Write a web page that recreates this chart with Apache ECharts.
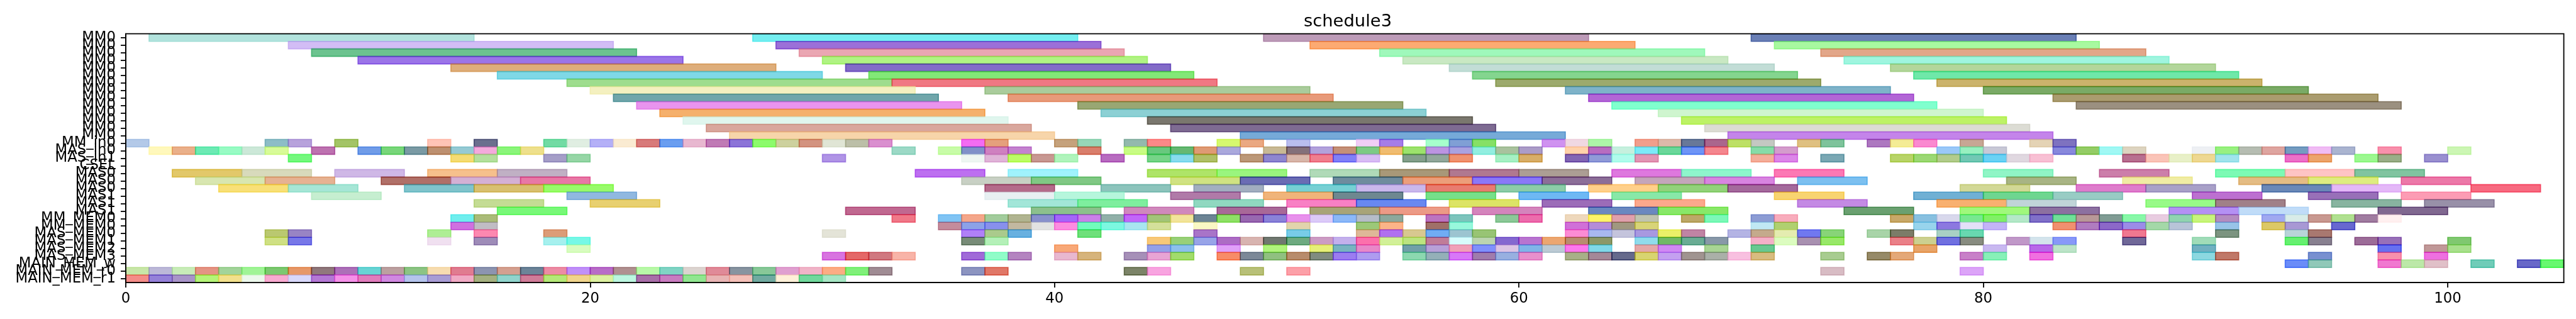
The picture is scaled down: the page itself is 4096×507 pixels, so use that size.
<!DOCTYPE html>
<html><head><meta charset="utf-8">
<script src="https://cdn.jsdelivr.net/npm/echarts@6/dist/echarts.min.js"></script>
<style>html,body{margin:0;padding:0;background:#fff}#c{width:4096px;height:507px}</style>
</head><body><div id="c"></div>
<script>
const chartTitle = 'schedule3';
const categories = ['MM0','MM0','MM0','MM0','MM0','MM0','MM0','MM0','MM0','MM0','MM0','MM0','MM0','MM0',
  'MM_in0','MAS_in0','MAS_in1','CSEL','MAS0','MAS0','MAS0','MAS1','MAS1','MAS1',
  'MM_MEM0','MM_MEM0','MAS_MEM0','MAS_MEM1','MAS_MEM2','MAS_MEM3','MAIN_MEM_w','MAIN_MEM_r0','MAIN_MEM_r1'];
const xTicks = [0, 20, 40, 60, 80, 100];
const xMax = 105;

// each row: list of [start, end]; matching colours in the *Colors arrays
const mmSpans = [
  [[1,15],[27,41],[49,63],[70,84]],
  [[7,21],[28,42],[51,65],[71,85]],
  [[8,22],[29,43],[54,68],[73,87]],
  [[10,24],[30,44],[55,69],[74,88]],
  [[14,28],[31,45],[57,71],[76,90]],
  [[16,30],[32,46],[58,72],[77,91]],
  [[19,33],[33,47],[59,73],[78,92]],
  [[20,34],[37,51],[62,76],[80,94]],
  [[21,35],[38,52],[63,77],[83,97]],
  [[22,36],[41,55],[64,78],[84,98]],
  [[23,37],[42,56],[66,80]],
  [[24,38],[44,58],[67,81]],
  [[25,39],[45,59],[68,82]],
  [[26,40],[48,62],[69,83]]
];
const mmColors = [
  ['#b2e3dd','#74eef0','#bd9bb8','#6a7fb5'],
  ['#d2bdf5','#9b70d8','#fcaa72','#a8f9a0'],
  ['#6cc38f','#eaa6b2','#9ff8bb','#e2a689'],
  ['#9b75e8','#b0f383','#c9e8c3','#9ff5df'],
  ['#deae7b','#836bc8','#c2ddd6','#b3d69b'],
  ['#7fd8e6','#82e877','#84d58f','#6fe8a9'],
  ['#9edd8e','#f07883','#9caa6d','#cbb36c'],
  ['#f4f0c0','#aacc9c','#7eb3c9','#7aaa66'],
  ['#70a6ab','#e89a7a','#b266d6','#aa9c6f'],
  ['#e994ee','#99a773','#80ffce','#9b9080'],
  ['#f5b06c','#8cd0d4','#cff5cf'],
  ['#e0f6ee','#7a776e','#bdf265'],
  ['#d9a79d','#7e6b92','#dcdcd4'],
  ['#f7d5aa','#76aad8','#c484ea']
];

const inSpans = [
  [[0,1],[6,7],[7,8],[9,10],[13,14],[15,16],[18,19],[19,20],[20,21],[21,22],[22,23],[23,24],[24,25],[25,26],[26,27],[27,28],[28,29],[29,30],[30,31],[31,32],[32,33],[36,37],[37,38],[40,41],[41,42],[43,44],[44,45],[47,48],[48,49],[50,51],[53,54],[54,55],[56,57],[57,58],[58,59],[61,62],[62,63],[63,64],[65,66],[66,67],[67,68],[68,69],[69,70],[70,71],[72,73],[73,74],[75,76],[76,77],[77,78],[79,80],[82,83],[83,84]],
  [[1,2],[2,3],[3,4],[4,5],[5,6],[6,7],[8,9],[10,11],[11,12],[12,13],[13,14],[14,15],[15,16],[16,17],[17,18],[33,34],[35,36],[36,37],[37,38],[38,39],[41,42],[43,44],[44,45],[45,46],[46,47],[47,48],[49,50],[50,51],[51,52],[52,53],[53,54],[54,55],[55,56],[56,57],[57,58],[58,59],[59,60],[60,61],[62,63],[63,64],[64,65],[65,66],[66,67],[67,68],[68,69],[70,71],[71,72],[78,79],[79,80],[80,81],[83,84],[84,85],[85,86],[86,87],[89,90],[90,91],[91,92],[92,93],[93,94],[94,95],[95,96],[97,98],[100,101]],
  [[7,8],[14,15],[15,16],[18,19],[19,20],[30,31],[36,37],[37,38],[38,39],[39,40],[40,41],[42,43],[44,45],[45,46],[46,47],[48,49],[49,50],[50,51],[51,52],[52,53],[53,54],[55,56],[56,57],[57,58],[59,60],[60,61],[62,63],[63,64],[64,65],[65,66],[70,71],[71,72],[73,74],[76,77],[77,78],[78,79],[79,80],[80,81],[81,82],[82,83],[86,87],[87,88],[88,89],[89,90],[90,91],[93,94],[94,95],[96,97],[97,98],[99,100]],
  []
];
const inColors = [
  ['#b3c9e8','#8dbdc6','#b7a2dc','#a3c466','#ffc4b6','#6b6f8e','#72dba4','#e0eee2','#b4b0f7','#faebd2','#d87a7a','#6a9ef0','#e8b8d0','#c07ab5','#8c74d8','#8cfb6c','#cdd19e','#d39380','#e0e5d5','#bcbfa8','#da8fcf','#f46cf2','#e5a07c','#c5a27c','#97d6b8','#93b9ad','#fc8888','#d6f86f','#eaa882','#b9bdee','#f0cef6','#a57de8','#a6ffcc','#809fd5','#86e05f','#cf92f0','#f0d8e2','#adf5a8','#f19e8c','#ddb9aa','#687898','#aa658d','#bde05e','#c4c8c2','#dfc081','#7ec39b','#ad78c0','#f4ec96','#fa89d0','#c7a694','#e4d3b5','#7e72c0'],
  ['#fff8bc','#eab08a','#6deab4','#98fbc4','#cce8d8','#d8fb98','#bd72b0','#709ce8','#78d67a','#7a9aa4','#bd9070','#95cad4','#f4aadc','#8af57a','#eee08c','#9cd9c6','#c8fca8','#8090c8','#cf80c0','#c482cf','#d97e6c','#c8fc84','#68c87e','#66b872','#df9a74','#aaa8dc','#c8b994','#84707a','#b2a2dc','#c49078','#7cca84','#f0bc70','#9ce26c','#bc94e2','#aaa2e0','#92eee0','#a9c29e','#ab9cc8','#ffd2aa','#b86cc0','#c6f0de','#7ceaf8','#6ad79a','#6e94f6','#f4868e','#86dca8','#d49ccc','#9ac8f8','#98f0c0','#c8c8d6','#8888dc','#94cc66','#a0f8f4','#ddd4c0','#eef0f4','#98f080','#b6bdb2','#dea5a0','#749cc0','#f0bcf4','#aab4d0','#f890ac','#ccf6b4'],
  ['#74f87e','#f4dc74','#b4e09e','#a59ec8','#96d6a6','#b094e6','#eef6f2','#e0b4d8','#bcfc58','#c89892','#b0f4bc','#b86cc0','#76d488','#88dcee','#b0c068','#bc9878','#8e86d0','#d8b6aa','#f07e8e','#8080f8','#d8bcf4','#84a08c','#92a89c','#f09270','#a6f0c4','#d8ae68','#8264b4','#909ad8','#b0fcec','#e296b4','#f4ae9a','#dc86e8','#7aa8b4','#b8d468','#9cd874','#b2cc8c','#72c8b4','#6ad2f4','#e0d8e0','#f8c0d4','#b87090','#fac4b8','#e8f0c8','#eed892','#a0e4ec','#ec70c8','#eca46c','#9cf890','#9aae88','#9a90d0'],
  []
];

const masSpans = [
  [[2,5],[5,8],[9,12],[13,16],[16,19],[34,37],[38,41],[44,47],[47,50],[51,54],[54,57],[57,60],[60,63],[64,67],[67,70],[71,74],[80,83],[85,88],[90,93],[93,96],[96,99]],
  [[3,6],[6,9],[11,14],[14,17],[17,20],[36,39],[39,42],[45,48],[48,51],[52,55],[55,58],[58,61],[61,64],[65,68],[68,71],[72,75],[81,84],[86,89],[91,94],[94,97],[98,101]],
  [[4,7],[7,10],[12,15],[15,18],[18,21],[37,40],[42,45],[46,49],[50,53],[53,56],[56,59],[59,62],[63,66],[66,69],[69,72],[79,82],[84,87],[87,90],[92,95],[95,98],[101,104]],
  [[8,11],[19,22],[37,40],[40,43],[45,48],[49,52],[52,55],[56,59],[60,63],[64,67],[71,74],[77,80],[80,83],[83,86],[89,92],[94,97],[98,101]],
  [[15,18],[20,23],[38,41],[41,44],[46,49],[50,53],[53,56],[57,60],[61,64],[65,68],[72,75],[78,81],[81,84],[87,90],[90,93],[95,98],[99,102]],
  [[16,19],[31,34],[39,42],[43,46],[47,50],[51,54],[54,57],[58,61],[63,66],[66,69],[74,77],[79,82],[82,85],[88,91],[91,94],[97,100]]
];
const masColors = [
  ['#e2c86a','#d8dabc','#cfb8e6','#f6c08c','#c0b0c4','#bd6ff0','#a0f2fc','#aee468','#9af57e','#b0dab8','#a89878','#b07890','#ac9e94','#de78de','#8ef5cc','#fc78b4','#90f5c6','#cc7eaa','#7cfab4','#fec4c4','#80c4a0'],
  ['#d8e6b0','#e6b292','#b07068','#d4b0d4','#e878a6','#c8d0c4','#80c884','#d0e282','#6a6cb4','#6e8c9e','#ec9e7a','#8a78f8','#8c6e98','#c4a6ba','#d884e0','#7cc0f0','#a8b484','#f0eca4','#e4bc84','#deec80','#ec78a8'],
  ['#f8e078','#a6e6d6','#80c4cc','#d8c070','#98fb6a','#b46a8a','#8cc4bc','#a2aec0','#76d0d4','#cab8ec','#e87c70','#8ccca8','#ffd08a','#92d27a','#a46a9c','#d2d896','#de7ccc','#a8a0c8','#6a88b8','#e4b8f8','#f76a80'],
  ['#c6eed0','#90b8e0','#e8f0f2','#b6f6dc','#b07aa8','#f0b47a','#6e8890','#76e08a','#6eb8f4','#88e8a8','#f8d470','#70b0d4','#6ed690','#98ccc4','#bc70d0','#9870b8','#fc9cb4'],
  ['#c4dc94','#e8d070','#a2e6d8','#7eee9e','#90d8c0','#f880c4','#6888f0','#dce462','#9c6cb8','#fca88c','#c48ae4','#f8b070','#c0d4d8','#98fa88','#a08088','#88b4a0','#9890a8'],
  ['#78f878','#c06890','#8cc08c','#d088bc','#a86898','#a8a478','#ec9a86','#d484bc','#6a88c0','#88e868','#6aa070','#a0f87c','#8c70a0','#b490f4','#c0dcf8','#806890']
];

const memSpans = [
  [[14,15],[15,16],[33,34],[35,36],[36,37],[37,38],[38,39],[39,40],[40,41],[41,42],[42,43],[43,44],[44,45],[45,46],[46,47],[47,48],[48,49],[49,50],[50,51],[51,52],[52,53],[53,54],[54,55],[56,57],[57,58],[59,60],[60,61],[62,63],[63,64],[64,65],[65,66],[67,68],[68,69],[70,71],[71,72],[76,77],[77,78],[78,79],[79,80],[80,81],[81,82],[82,83],[83,84],[84,85],[85,86],[86,87],[87,88],[88,89],[89,90],[90,91],[92,93],[93,94],[94,95],[95,96],[96,97],[97,98]],
  [[14,15],[15,16],[35,36],[36,37],[37,38],[38,39],[39,40],[40,41],[41,42],[42,43],[43,44],[44,45],[46,47],[50,51],[53,54],[54,55],[56,57],[57,58],[62,63],[63,64],[64,65],[65,66],[70,71],[71,72],[77,78],[78,79],[79,80],[80,81],[83,84],[84,85],[85,86],[86,87],[87,88],[88,89],[90,91],[92,93],[93,94],[95,96]],
  [[6,7],[7,8],[13,14],[15,16],[18,19],[30,31],[36,37],[37,38],[38,39],[41,42],[46,47],[50,51],[53,54],[54,55],[55,56],[56,57],[57,58],[58,59],[62,63],[63,64],[64,65],[65,66],[66,67],[67,68],[69,70],[70,71],[71,72],[72,73],[73,74],[75,76],[76,77],[78,79],[79,80],[86,87],[90,91],[93,94],[94,95]],
  [[6,7],[7,8],[13,14],[15,16],[18,19],[19,20],[36,37],[37,38],[44,45],[45,46],[46,47],[47,48],[48,49],[49,50],[50,51],[51,52],[52,53],[53,54],[54,55],[55,56],[56,57],[57,58],[58,59],[59,60],[60,61],[61,62],[62,63],[63,64],[65,66],[66,67],[67,68],[68,69],[70,71],[71,72],[72,73],[73,74],[76,77],[77,78],[78,79],[79,80],[81,82],[82,83],[83,84],[86,87],[89,90],[93,94],[94,95],[96,97],[97,98],[100,101]],
  [[19,20],[40,41],[44,45],[45,46],[47,48],[49,50],[51,52],[52,53],[53,54],[55,56],[56,57],[57,58],[58,59],[59,60],[60,61],[61,62],[62,63],[63,64],[65,66],[66,67],[68,69],[70,71],[77,78],[80,81],[82,83],[83,84],[89,90],[97,98],[99,100],[100,101]],
  [[30,31],[31,32],[32,33],[33,34],[36,37],[37,38],[38,39],[40,41],[41,42],[43,44],[44,45],[45,46],[47,48],[48,49],[49,50],[50,51],[51,52],[52,53],[53,54],[55,56],[56,57],[57,58],[58,59],[59,60],[60,61],[62,63],[63,64],[64,65],[65,66],[66,67],[67,68],[68,69],[69,70],[70,71],[73,74],[75,76],[76,77],[79,80],[80,81],[82,83],[89,90],[90,91],[94,95],[97,98],[99,100]],
  [[93,94],[94,95],[97,98],[98,99],[99,100],[101,102],[103,104],[104,105]],
  [[0,1],[1,2],[2,3],[3,4],[4,5],[5,6],[6,7],[7,8],[8,9],[9,10],[10,11],[11,12],[12,13],[13,14],[14,15],[15,16],[16,17],[17,18],[18,19],[19,20],[20,21],[21,22],[22,23],[23,24],[24,25],[25,26],[26,27],[27,28],[28,29],[29,30],[30,31],[31,32],[32,33],[36,37],[37,38],[43,44],[44,45],[48,49],[50,51],[73,74],[79,80]],
  [[0,1],[1,2],[2,3],[3,4],[4,5],[5,6],[6,7],[7,8],[8,9],[9,10],[10,11],[11,12],[12,13],[13,14],[14,15],[15,16],[16,17],[17,18],[18,19],[19,20],[20,21],[21,22],[22,23],[23,24],[24,25],[25,26],[26,27],[27,28],[28,29],[29,30],[30,31]]
];
const memColors = [
  ['#70eeee','#aabb78','#f07888','#80c4f4','#f4a68a','#a2cc9c','#b0b490','#8890cc','#a466f8','#ca80e8','#90b0a8','#c262f8','#a2c478','#f2e49a','#6c8494','#8ee058','#9868b0','#8a82d8','#e890ec','#dccaf8','#8cb8f8','#b6bcc8','#8ca89c','#bc74c0','#7cc4bc','#8cc898','#ec6cac','#eed8bc','#fcf468','#e0a0ac','#c0c4b0','#bca868','#7cf8b8','#8c9cd4','#f8acbc','#c8a868','#88c0e0','#d8d8ec','#78e890','#80f060','#b4e8c8','#8070c8','#70e098','#b89898','#809c94','#88f8a8','#e8cce0','#90d4b0','#c8f47c','#b48cc0','#a0a8f0','#d8ece8','#c89890','#b0e090','#a07ca0','#fff0f0'],
  ['#d070e0','#c0bcc4','#c48c9c','#8ca2e8','#8890ec','#c2b8a0','#e2e2e2','#fc8ce0','#72fcbc','#7cf8e0','#a8e6f0','#d4e09a','#faf8c4','#e2d4ac','#9cc878','#fcb488','#a07068','#98f8dc','#d070d8','#b48cd8','#a09880','#d8d478','#c0e8f4','#b0d070','#98d4ec','#8c78e0','#e4e0f8','#c4b4f8','#f09070','#b07cc0','#8c68c8','#9c8ce8','#a4d8a8','#b8c4d8','#98c4e8','#dcc860','#a898d4','#6868d0'],
  ['#bac870','#9884c4','#aeee94','#fc88b0','#dc9c78','#e4e4d8','#b080f8','#aaca8c','#68b0e0','#6ee07a','#a874c8','#78cce8','#deb898','#b070f0','#d8c890','#70acf4','#9cc4d0','#98c474','#fc8cd4','#a8b8f0','#c4c4dc','#a898e0','#eaf068','#c084a4','#b4b4e4','#c4aa8c','#e4ecb0','#7078f0','#88d478','#a8d4a8','#7c7c68','#a8d0c4','#68d8b0','#f07890','#7c9480','#b8d4d8','#a87870'],
  ['#cfe084','#7878e8','#f0e0f0','#9e8cb8','#a6f0ee','#76f8e6','#788c78','#b4f0b8','#f8c878','#98d078','#98a4e8','#ac6cc4','#d8b4b0','#707870','#6eaa80','#cc9cc4','#c4b0ec','#fc70ac','#d2f098','#bce480','#c07c98','#d8fcfc','#bcd4b0','#8468d0','#b874d0','#eca670','#b88c70','#8c9868','#90dcec','#70b868','#6aac94','#8898a8','#f4b0c8','#dcfcc0','#a890b0','#98e868','#ea8088','#ccd090','#7070e0','#888c80','#c098c8','#d4e4ec','#8898f8','#706898','#a0dcb8','#60f070','#888090','#9c6c98','#9870b8','#80c870'],
  ['#d8fcc0','#f8a878','#94a0e8','#8cc0ec','#e0a0f8','#b0f47c','#e6f078','#78b4c0','#e888c8','#70a0a8','#b8a0d8','#f0a0b8','#8090fc','#dcc4e4','#80b4e8','#bccad4','#fc78ec','#80d8e8','#e4a8a8','#d088f4','#a8d494','#68c890','#e8a468','#c8b8f0','#b868e8','#bce4c8','#70b0c0','#6070f0','#c09898','#a8e08c'],
  ['#d874e0','#e46868','#d07880','#f8b4a8','#a06ad8','#90fcc8','#b484c0','#e8b8d0','#d6b47c','#a690b8','#e8a4d4','#a2dc6c','#f88c68','#7c8898','#90c080','#b88c6c','#808c80','#9c7cf0','#ae9cf0','#8cd8b0','#94b0b8','#d878f8','#a07cac','#98b0e0','#e890cc','#a8b088','#a48898','#646a8c','#d8d470','#c4a0f0','#a09490','#aab0a8','#f8c0e0','#d8bc80','#a8cc90','#968a68','#e4a878','#c880c8','#88f0b8','#f070e0','#8cd8e0','#c07868','#7890d0','#f890ac','#ee70e0'],
  ['#6a8cf8','#90c8b8','#f078d0','#bce8a8','#e0c0c8','#70ccb8','#6868c8','#68f870'],
  ['#c8e6a8','#bcb8d8','#c8ecb8','#e49484','#a2d49a','#a0f496','#7cc870','#e69868','#90787c','#ac70b8','#68d4d4','#bca0a0','#8cc484','#f6dcb0','#e07c90','#8c94b0','#d4a090','#6c8498','#ec8ca4','#c090f8','#b86cc8','#b09090','#b8f8a8','#80d4c4','#dcd4d0','#e08a98','#8894a0','#88c898','#e0a0d0','#f0b4c8','#fcac84','#80f07a','#a08c94','#8c94c0','#e07868','#7c8468','#f8a4e0','#b8c078','#fca0a8','#d8bcc4','#dca4f8'],
  ['#f48c88','#9480d8','#a894c8','#b4f478','#f2e08c','#ecf8ec','#f8aad0','#d8d8fa','#b478d4','#f490e8','#e07cbc','#d088e0','#b4c4ec','#a89cd4','#f0aac4','#a4b080','#90d4cc','#d07c98','#b4e878','#f0d48c','#dcf0a0','#bcf6e0','#a86ea8','#c87cc0','#90e690','#e8b4b4','#f4c0b8','#70aaa0','#fff0d8','#70d89c','#a6e6c4']
];

// ---- build (rows listed top to bottom) ----
const allSpans = mmSpans.concat(inSpans, masSpans, memSpans);
const allColors = mmColors.concat(inColors, masColors, memColors);
const tasks = [];
const taskFace = [];
allSpans.forEach((row, r) => {
  row.forEach((sp, k) => {
    tasks.push([r, sp[0], sp[1]]);
    taskFace.push((allColors[r] && allColors[r][k]) || '#cccccc');
  });
});

const ALPHA = 0.6;
function baseColor(face) {
  const h = face.replace('#', '');
  const ch = [0, 2, 4].map(i => parseInt(h.substr(i, 2), 16));
  const c = ch.map(v => Math.max(0, Math.min(255, Math.round((v - 255 * (1 - ALPHA)) / ALPHA))));
  return 'rgba(' + c.join(',') + ',' + ALPHA + ')';
}
const taskBase = taskFace.map(baseColor);

const FONT = 'DejaVu Sans';
const chart = echarts.init(document.getElementById('c'), null, {renderer: 'canvas'});
chart.setOption({
  animation: false,
  backgroundColor: '#ffffff',
  title: {
    text: chartTitle, left: 2138, top: 16, textAlign: 'center',
    textStyle: {fontFamily: FONT, fontSize: 27.4, fontWeight: 'normal', color: '#000'}
  },
  grid: {
    left: 200, right: 19.4, top: 53.7, bottom: 57.9,
    show: true, z: 10, backgroundColor: 'transparent', borderColor: '#000', borderWidth: 1.8
  },
  xAxis: {
    type: 'value', min: 0, max: xMax, interval: 20,
    splitLine: {show: false},
    axisLine: {show: true, lineStyle: {color: '#000', width: 1.8}},
    axisTick: {show: true, length: 8, lineStyle: {color: '#000', width: 1.8}, customValues: xTicks},
    axisLabel: {customValues: xTicks, margin: 14, fontFamily: FONT, fontSize: 22.8, color: '#000'}
  },
  yAxis: {
    type: 'category', data: categories, inverse: true,
    splitLine: {show: false},
    axisLine: {show: true, lineStyle: {color: '#000', width: 1.8}},
    axisTick: {show: true, alignWithLabel: true, length: 8, lineStyle: {color: '#000', width: 1.8}},
    axisLabel: {interval: 0, margin: 16, fontFamily: FONT, fontSize: 22.8, color: '#000'}
  },
  series: [{
    type: 'custom',
    encode: {x: [1, 2], y: 0},
    data: tasks,
    renderItem: function (params, api) {
      const r = api.value(0), s = api.value(1), e = api.value(2);
      const p0 = api.coord([s, r]);
      const p1 = api.coord([e, r]);
      const h = api.size([0, 1])[1];
      const col = taskBase[params.dataIndex];
      return {
        type: 'rect',
        shape: {x: p0[0], y: p0[1] - h / 2, width: p1[0] - p0[0], height: h},
        style: {fill: col, stroke: col, lineWidth: 1.6}
      };
    }
  }]
});
</script></body></html>
